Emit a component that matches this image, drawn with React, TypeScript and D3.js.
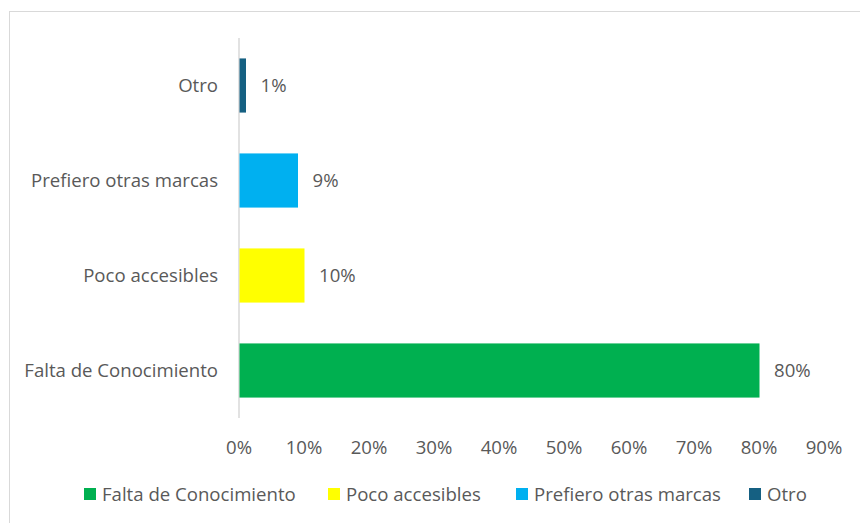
import React from 'react';
import * as d3 from 'd3';

// categories from top to bottom, as they appear on the chart
const categories = ['Otro', 'Prefiero otras marcas', 'Poco accesibles', 'Falta de Conocimiento'];
const values = [1, 9, 10, 80];
const colors = ['#156082', '#00B0F0', '#FFFF00', '#00B050'];

// legend order (bottom-up in the chart)
const legendItems = ['Falta de Conocimiento', 'Poco accesibles', 'Prefiero otras marcas', 'Otro'];
const legendColors = ['#00B050', '#FFFF00', '#00B0F0', '#156082'];
const legendX = [84, 328, 516, 749];

const xTicks = [0, 10, 20, 30, 40, 50, 60, 70, 80, 90];

const W = 860;
const H = 523;
const FONT = '"Open Sans", "Noto Sans", sans-serif';
const FS = 18.6;
const TEXT = '#595959';

const App = () => {
  const x = d3.scaleLinear().domain([0, 90]).range([239, 824]);
  const y = d3.scaleBand()
    .domain(categories)
    .range([38, 418])
    .paddingInner(0.43)
    .paddingOuter(0.215);

  return (
    <svg width={W} height={H} style={{ position: 'absolute', left: 0, top: 0 }}>
      <rect x={0} y={0} width={W} height={H} fill="#fff" />
      <rect x={9.5} y={11.5} width={W + 10} height={H + 10} fill="#fff" stroke="#D9D9D9" strokeWidth={1} />

      {/* category axis line */}
      <line x1={x(0)} x2={x(0)} y1={38} y2={418} stroke="#D9D9D9" strokeWidth={1.5} />

      {/* bars */}
      {categories.map((c, i) => (
        <rect
          key={c}
          x={x(0) + 0.5}
          y={y(c)}
          width={x(values[i]) - x(0)}
          height={y.bandwidth()}
          fill={colors[i]}
        />
      ))}

      {/* value labels */}
      {categories.map((c, i) => (
        <text
          key={c + 'v'}
          x={x(values[i]) + 15}
          y={(y(c) as number) + y.bandwidth() / 2 - 1}
          dominantBaseline="central"
          fontFamily={FONT}
          fontSize={FS}
          fill={TEXT}
        >
          {values[i]}%
        </text>
      ))}

      {/* category labels */}
      {categories.map((c) => (
        <text
          key={c + 'l'}
          x={218}
          y={(y(c) as number) + y.bandwidth() / 2 - 1}
          dominantBaseline="central"
          textAnchor="end"
          fontFamily={FONT}
          fontSize={FS}
          fill={TEXT}
        >
          {c}
        </text>
      ))}

      {/* x tick labels */}
      {xTicks.map((t) => (
        <text
          key={t}
          x={x(t)}
          y={446}
          dominantBaseline="central"
          textAnchor="middle"
          fontFamily={FONT}
          fontSize={FS}
          fill={TEXT}
        >
          {t}%
        </text>
      ))}

      {/* legend */}
      {legendItems.map((l, i) => (
        <g key={l} transform={`translate(${legendX[i]},494)`}>
          <rect x={0} y={-6} width={12} height={12} fill={legendColors[i]} />
          <text x={18} y={-1} dominantBaseline="central" fontFamily={FONT} fontSize={FS} fill={TEXT}>
            {l}
          </text>
        </g>
      ))}
    </svg>
  );
};

export default App;
